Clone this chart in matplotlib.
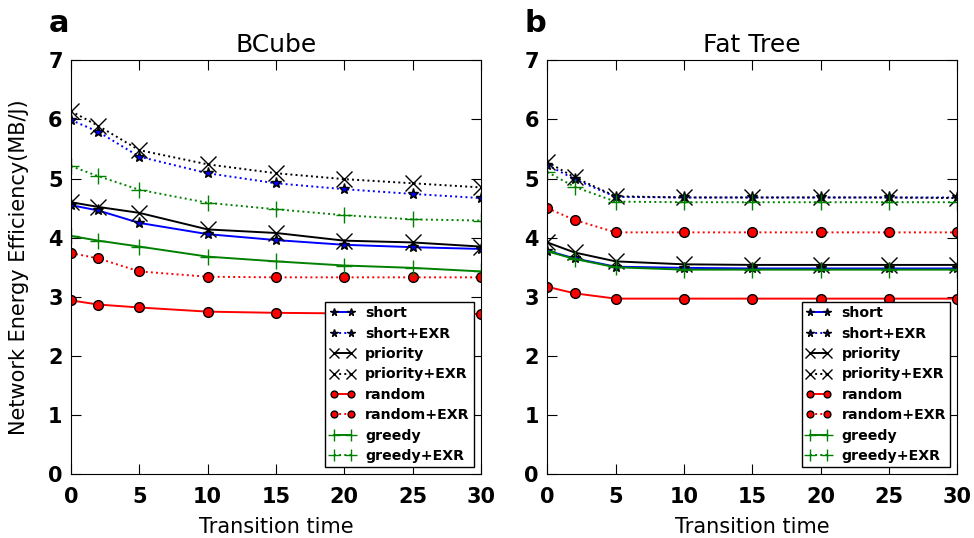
"""
BCube / Fat Tree: network energy efficiency vs transition time
"""

import matplotlib
matplotlib.use('Agg')
from matplotlib import pyplot as plt

x = [0, 2, 5, 10, 15, 20, 25, 30]

# BCube
bc_short = [4.55, 4.46, 4.25, 4.06, 3.96, 3.88, 3.84, 3.81]
bc_short_exr = [5.99, 5.79, 5.37, 5.09, 4.92, 4.82, 4.74, 4.67]
bc_priority = [4.60, 4.52, 4.42, 4.14, 4.08, 3.95, 3.92, 3.85]
bc_priority_exr = [6.14, 5.89, 5.48, 5.24, 5.09, 4.99, 4.92, 4.85]
bc_random = [2.94, 2.87, 2.82, 2.75, 2.73, 2.72, 2.72, 2.71]
bc_random_exr = [3.74, 3.65, 3.43, 3.34, 3.33, 3.33, 3.33, 3.33]
bc_greedy = [4.03, 3.95, 3.85, 3.68, 3.60, 3.53, 3.49, 3.43]
bc_greedy_exr = [5.21, 5.04, 4.81, 4.59, 4.48, 4.38, 4.31, 4.29]

# Fat Tree
ft_short = [3.78, 3.65, 3.51, 3.49, 3.48, 3.48, 3.48, 3.48]
ft_short_exr = [5.23, 4.99, 4.69, 4.68, 4.68, 4.68, 4.68, 4.68]
ft_priority = [3.92, 3.75, 3.60, 3.55, 3.54, 3.54, 3.54, 3.54]
ft_priority_exr = [5.28, 5.02, 4.70, 4.68, 4.68, 4.68, 4.68, 4.67]
ft_random = [3.17, 3.06, 2.97, 2.97, 2.97, 2.97, 2.97, 2.97]
ft_random_exr = [4.50, 4.30, 4.09, 4.09, 4.09, 4.09, 4.09, 4.09]
ft_greedy = [3.77, 3.64, 3.50, 3.46, 3.46, 3.46, 3.46, 3.46]
ft_greedy_exr = [5.11, 4.86, 4.61, 4.60, 4.60, 4.60, 4.60, 4.60]

labels = ['short', 'short+EXR', 'priority', 'priority+EXR',
          'random', 'random+EXR', 'greedy', 'greedy+EXR']

styles = [
    dict(color='b', linestyle='-', marker='*', ms=8),
    dict(color='b', linestyle=':', marker='*', ms=8),
    dict(color='k', linestyle='-', marker='x', ms=11, mew=1),
    dict(color='k', linestyle=':', marker='x', ms=11, mew=1),
    dict(color='r', linestyle='-', marker='o', ms=7),
    dict(color='r', linestyle=':', marker='o', ms=7),
    dict(color='g', linestyle='-', marker='+', ms=12, mew=1),
    dict(color='g', linestyle=':', marker='+', ms=12, mew=1),
]

panels = [
    ('a', 'BCube', [bc_short, bc_short_exr, bc_priority, bc_priority_exr,
                    bc_random, bc_random_exr, bc_greedy, bc_greedy_exr]),
    ('b', 'Fat Tree', [ft_short, ft_short_exr, ft_priority, ft_priority_exr,
                       ft_random, ft_random_exr, ft_greedy, ft_greedy_exr]),
]

fig = plt.figure(figsize=(9.74, 5.38), dpi=100)
lefts = [0.0729, 0.5619]
letter_x = [0.0505, 0.538]

for left, lx, (letter, title, series) in zip(lefts, letter_x, panels):
    ax = fig.add_axes([left, 0.1184, 0.4209, 0.7696])
    for ys, lab, st in zip(series, labels, styles):
        mec = 'k' if st['marker'] in ('o', '*') else st['color']
        ax.plot(x, ys, label=lab, lw=1.4, mec=mec, **st)
    ax.set_xlim(0, 30)
    ax.set_ylim(0, 7)
    ax.set_xticks([0, 5, 10, 15, 20, 25, 30])
    ax.set_yticks(range(8))
    ax.tick_params(direction='in', top=True, right=True, length=7,
                   labelsize=15, pad=6)
    ax.tick_params(axis='x', pad=9)
    for t in ax.get_xticklabels() + ax.get_yticklabels():
        t.set_fontweight('bold')
    ax.set_xlabel('Transition time', fontsize=15, fontweight='medium',
                  labelpad=7)
    ax.set_title(title, fontsize=18, pad=6)
    fig.text(lx, 0.9405, letter, fontsize=22, fontweight='bold',
             va='baseline', ha='left')
    leg = ax.legend(loc='lower right', numpoints=2, markerscale=0.7,
                    prop={'weight': 'bold', 'size': 10.2},
                    fancybox=False, edgecolor='k', framealpha=1,
                    handlelength=1.8, borderpad=0.3, labelspacing=0.45,
                    handletextpad=0.7, borderaxespad=0.5)
    leg.get_frame().set_linewidth(1.0)
    if letter == 'a':
        ax.set_ylabel('Network Energy Efficiency(MB/J)', fontsize=15,
                      labelpad=14)

plt.savefig('out.png', dpi=100)
